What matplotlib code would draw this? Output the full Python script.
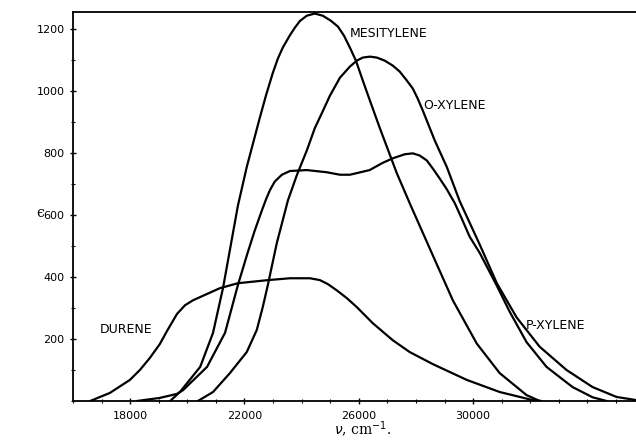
import numpy as np
import matplotlib
matplotlib.use('Agg')
import matplotlib.pyplot as plt
from matplotlib.ticker import FixedLocator, MultipleLocator

# wavenumber (cm^-1) and epsilon
mes_x = [19400, 19750, 20450, 20900, 21250, 21770, 22080, 22540, 22750, 22990, 23170, 23340,
         23590, 23760, 23940, 24180, 24460, 24740, 25020, 25270, 25480, 25690, 25900, 26140,
         26390, 26730, 27330, 27820, 28590, 29290, 30130, 30930, 31870, 32330]
mes_y = [0, 30, 110, 220, 365, 630, 755, 915, 985, 1058, 1105, 1140,
         1180, 1204, 1226, 1243, 1250, 1243, 1227, 1208, 1179, 1140, 1098, 1034,
         969, 882, 735, 630, 470, 325, 185, 90, 19, 0]

oxy_x = [20370, 20900, 21490, 22080, 22430, 22640, 22820, 23130, 23520, 23830, 24180, 24460,
         24740, 24990, 25340, 25690, 25930, 26140, 26390, 26630, 26910, 27190, 27430, 27680,
         27890, 28060, 28240, 28660, 29080, 29530, 30230, 30830, 31520, 32330, 33270, 34180,
         35020, 35700]
oxy_y = [0, 29, 90, 158, 229, 303, 375, 509, 647, 728, 808, 880,
         935, 985, 1043, 1079, 1098, 1108, 1111, 1108, 1098, 1082, 1063, 1034,
         1008, 976, 937, 840, 755, 645, 505, 380, 270, 175, 100, 45,
         13, 3]

pxy_x = [18240, 19040, 19640, 19850, 20690, 21320, 21770, 22100, 22360, 22610, 22760, 22890,
         23060, 23310, 23590, 24180, 24880, 25340, 25690, 26380, 26830, 27190, 27610, 27890,
         28130, 28380, 28590, 28830, 29080, 29360, 29600, 29880, 30230, 30530, 30830, 31280,
         31870, 32570, 33480, 34180, 34670]
pxy_y = [0, 10, 23, 35, 110, 220, 374, 475, 550, 615, 652, 680,
         708, 730, 742, 745, 738, 730, 730, 745, 768, 783, 796, 799,
         792, 776, 750, 718, 683, 638, 589, 530, 478, 425, 372, 288,
         190, 110, 45, 12, 0]

dur_x = [16600, 17290, 17990, 18340, 18690, 19040, 19290, 19640, 19920, 20200, 21140, 21770,
         22820, 23590, 24290, 24640, 24920, 25230, 25580, 25930, 26490, 27190, 27780, 28590,
         29780, 30930, 32080, 32400]
dur_y = [0, 26, 68, 100, 139, 184, 226, 281, 309, 325, 364, 380,
         390, 396, 396, 390, 377, 357, 332, 303, 251, 196, 158, 119,
         68, 29, 3, 0]

labels = ['MESITYLENE', 'O-XYLENE', 'P-XYLENE', 'DURENE']
label_x = [25700, 28240, 31840, 16950]
label_y = [1185, 953, 245, 232]

fig = plt.figure(figsize=(6.36, 4.41), dpi=100)
ax = fig.add_axes([73 / 636, 40 / 441, 563 / 636, 389 / 441])

for xs, ys in [(mes_x, mes_y), (oxy_x, oxy_y), (pxy_x, pxy_y), (dur_x, dur_y)]:
    ax.plot(xs, ys, color='black', lw=1.6, solid_capstyle='round', solid_joinstyle='round')

for t, lx, ly in zip(labels, label_x, label_y):
    ax.text(lx, ly, t, fontsize=9, va='center', ha='left')

ax.set_xlim(16000, 35700)
ax.set_ylim(0, 1255)
ax.spines['right'].set_visible(False)
for s in ['left', 'bottom', 'top']:
    ax.spines[s].set_linewidth(1.3)

ax.xaxis.set_major_locator(FixedLocator([18000, 22000, 26000, 30000]))
ax.xaxis.set_minor_locator(MultipleLocator(1000))
ax.yaxis.set_major_locator(FixedLocator([200, 400, 600, 800, 1000, 1200]))
ax.yaxis.set_minor_locator(MultipleLocator(100))
ax.tick_params(axis='both', which='both', direction='inout', labelsize=8)
ax.tick_params(axis='both', which='major', length=5, width=1)
ax.tick_params(axis='both', which='minor', length=3, width=0.8)
ax.tick_params(axis='x', pad=5)

ax.set_ylabel('ϵ', rotation=0, fontsize=10, family='DejaVu Serif')
ax.yaxis.set_label_coords(-0.058, 0.465)
plt.rcParams['mathtext.fontset'] = 'dejavuserif'
ax.set_xlabel(r'$\nu$, cm$^{-1}$.', fontsize=10, family='DejaVu Serif')
ax.xaxis.set_label_coords(0.515, -0.05)

fig.savefig('out.png', dpi=100)
